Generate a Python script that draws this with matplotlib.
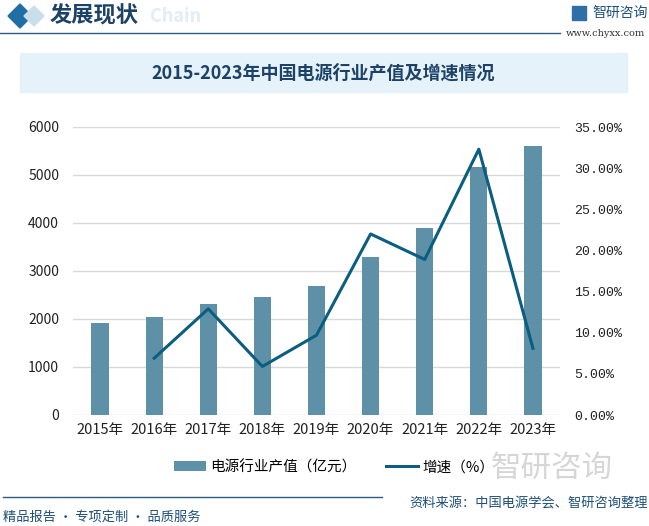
import numpy as np
import matplotlib.pyplot as plt
from matplotlib.patches import Rectangle, Polygon

plt.rcParams['font.family'] = ['Noto Sans CJK SC', 'DejaVu Sans']

years = ['2015年', '2016年', '2017年', '2018年', '2019年', '2020年', '2021年', '2022年', '2023年']
output_value = [1920, 2040, 2310, 2460, 2690, 3290, 3900, 5170, 5600]   # 亿元
growth_years = years[1:]
growth_rate = [6.9, 12.9, 5.9, 9.7, 22.0, 18.9, 32.3, 8.1]            # %

left_ticks = [0, 1000, 2000, 3000, 4000, 5000, 6000]
right_ticks = [0, 5, 10, 15, 20, 25, 30, 35]

bar_color = '#5E91A8'
line_color = '#0B5E7F'
navy = '#1D4268'

fig = plt.figure(figsize=(6.49, 5.26), dpi=100)
W, H = 649, 526

def fx(px):
    return px / W

def fy(py):
    return 1 - py / H

# header
fig.patches.append(Polygon([(fx(8), fy(16)), (fx(20), fy(4)), (fx(32), fy(16)), (fx(20), fy(28))],
                           closed=True, transform=fig.transFigure, color='#1F6EA6'))
fig.patches.append(Polygon([(fx(24), fy(16)), (fx(34), fy(6)), (fx(44), fy(16)), (fx(34), fy(26))],
                           closed=True, transform=fig.transFigure, color='#C9DDEB'))
fig.text(fx(150), fy(17), 'Chain', fontsize=13, color='#E3EDF5', weight='bold', va='center')
fig.text(fx(50), fy(16), '发展现状', fontsize=16, color=navy, weight='bold', va='center')
fig.add_artist(plt.Line2D([0, fx(560)], [fy(33), fy(33)], transform=fig.transFigure,
                          color='#2C5C84', lw=1.0))
fig.text(fx(592), fy(13), '智研咨询', fontsize=10, color='#1D4F7C', va='center')
fig.patches.append(Rectangle((fx(572), fy(20)), fx(14), 14 / H, transform=fig.transFigure,
                             color='#2F6FA8'))
fig.text(fx(645), fy(34), 'www.chyxx.com', fontsize=7, color='#333333', ha='right', va='center',
         family=['DejaVu Serif'])

# title box
fig.patches.append(Rectangle((fx(20), fy(92)), fx(607), 39 / H, transform=fig.transFigure,
                             color='#E6F2FA', zorder=0))
fig.text(fx(323), fy(73), '2015-2023年中国电源行业产值及增速情况', fontsize=13, color=navy,
         weight='bold', ha='center', va='center')

# chart
ax = fig.add_axes([fx(73), fy(415), fx(560 - 73), (415 - 127) / H])
x = np.arange(len(years))
ax.bar(x, output_value, width=0.32, color=bar_color, zorder=2, label='电源行业产值（亿元）')
ax.set_xlim(-0.5, len(years) - 0.5)
ax.set_ylim(0, 6000)
ax.set_yticks(left_ticks)
ax.set_xticks(x)
ax.set_xticklabels(years, fontsize=10.5, color='#222222')
ax.tick_params(axis='y', labelsize=10, colors='#222222', length=0, pad=10)
ax.tick_params(axis='x', length=0, pad=6)
ax.grid(axis='y', color='#D9D9D9', lw=1, zorder=0)
for s in ax.spines.values():
    s.set_visible(False)

ax2 = ax.twinx()
ax2.plot(x[1:], growth_rate, color=line_color, lw=2.2, zorder=3, label='增速（%）')
ax2.set_ylim(0, 35)
ax2.set_yticks(right_ticks)
ax2.set_yticklabels(['%.2f%%' % v for v in right_ticks], family=['Liberation Mono'])
ax2.tick_params(axis='y', labelsize=9.5, colors='#222222', length=0, pad=10)
for s in ax2.spines.values():
    s.set_visible(False)

h1, l1 = ax.get_legend_handles_labels()
h2, l2 = ax2.get_legend_handles_labels()
fig.legend(h1 + h2, l1 + l2, loc='center', bbox_to_anchor=(fx(334), fy(467)), ncol=2,
           frameon=False, fontsize=10.5, handlelength=2.2, handleheight=0.6, columnspacing=2.0,
           handletextpad=0.3)

# footer
fig.text(fx(552), fy(468), '智研咨询', fontsize=22, color='#D6D6D6', ha='center', va='center', zorder=0)
fig.add_artist(plt.Line2D([fx(3), fx(382)], [fy(497), fy(497)], transform=fig.transFigure,
                          color='#2C5C84', lw=1.0))
fig.text(fx(648), fy(503), '资料来源：中国电源学会、智研咨询整理', fontsize=9.5, color='#1D4F7C',
         ha='right', va='center')
fig.text(fx(3), fy(517), '精品报告 · 专项定制 · 品质服务', fontsize=9.5, color='#1D4F7C', va='center')

fig.savefig('out.png', dpi=100)
